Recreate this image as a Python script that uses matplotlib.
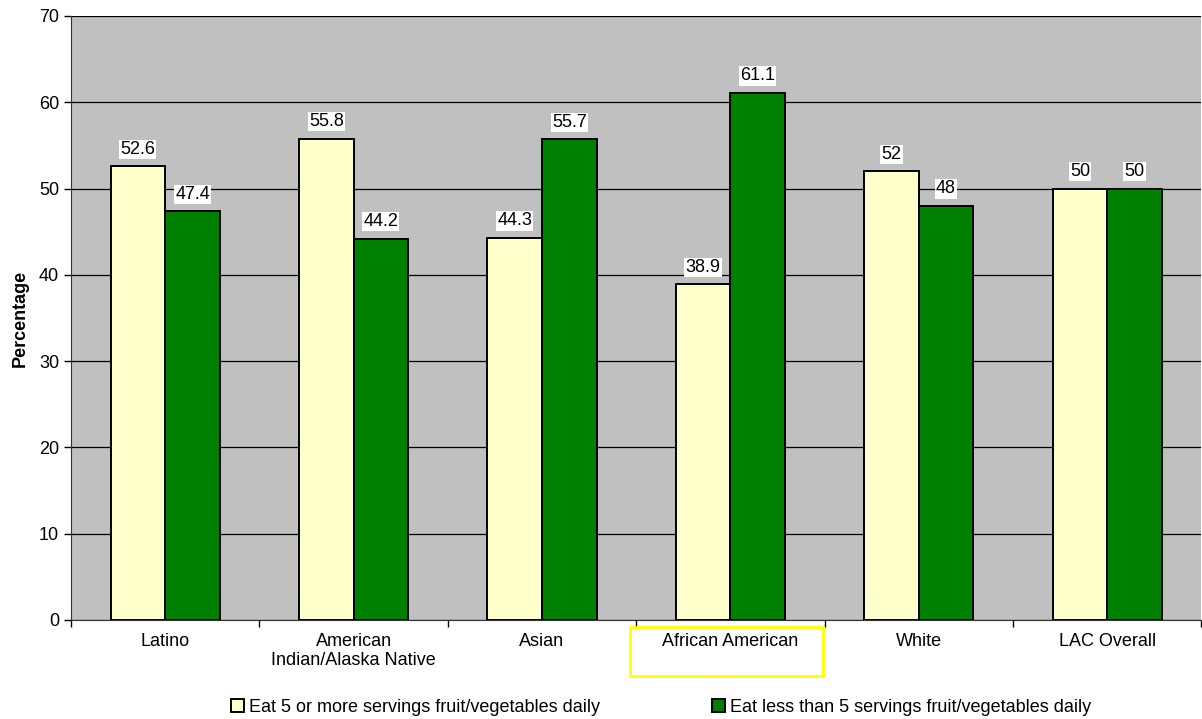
import numpy as np
import matplotlib.pyplot as plt
from matplotlib.patches import Rectangle

plt.rcParams['font.family'] = ['Liberation Sans', 'DejaVu Sans']

categories = ["Latino", "American\nIndian/Alaska Native", "Asian",
              "African American", "White", "LAC Overall"]
five_or_more = [52.6, 55.8, 44.3, 38.9, 52, 50]
less_than_five = [47.4, 44.2, 55.7, 61.1, 48, 50]
value_labels_a = ["52.6", "55.8", "44.3", "38.9", "52", "50"]
value_labels_b = ["47.4", "44.2", "55.7", "61.1", "48", "50"]
series_names = ["Eat 5 or more servings fruit/vegetables daily",
                "Eat less than 5 servings fruit/vegetables daily"]

FS = 13


def main():
    fig = plt.figure(figsize=(12.02, 7.19), dpi=100)
    ax = fig.add_axes([71 / 1202, 1 - 620 / 719, 1 - 71 / 1202 - 0.0005, (620 - 16) / 719])
    ax.set_facecolor('#C0C0C0')

    x = np.arange(len(categories))
    w = 0.29
    b1 = ax.bar(x - w / 2, five_or_more, w, color='#FFFFCC', edgecolor='black', linewidth=1.4,
                label=series_names[0], zorder=3)
    b2 = ax.bar(x + w / 2, less_than_five, w, color='#008000', edgecolor='black', linewidth=1.4,
                label=series_names[1], zorder=3)

    for bars, labels in ((b1, value_labels_a), (b2, value_labels_b)):
        for rect, lab in zip(bars, labels):
            ax.annotate(lab, (rect.get_x() + rect.get_width() / 2, rect.get_height()),
                        xytext=(0, 6), textcoords='offset points', ha='center', va='bottom',
                        fontsize=FS, zorder=5,
                        bbox=dict(boxstyle='square,pad=0.06', fc='white', ec='none'))

    ax.set_xlim(-0.5, len(categories) - 0.5)
    ax.set_ylim(0, 70)
    ax.set_yticks(np.arange(0, 71, 10))
    ax.yaxis.grid(True, color='black', linewidth=0.9, zorder=1)
    ax.set_axisbelow(True)
    ax.tick_params(axis='y', labelsize=FS, length=5, width=1)

    ax.set_xticks(x)
    ax.set_xticklabels(categories, fontsize=FS)
    ax.tick_params(axis='x', which='major', length=0, pad=9)
    ax.set_xticks(np.arange(-0.5, len(categories), 1), minor=True)
    ax.tick_params(axis='x', which='minor', length=5, width=1)

    for s in ['top', 'right']:
        ax.spines[s].set_visible(False)
    ax.spines['left'].set_color('#333333')
    ax.spines['bottom'].set_color('#333333')

    ax.set_ylabel('Percentage', fontsize=FS, fontweight='bold', labelpad=7)

    # yellow highlight box around the African American label
    fig.patches.append(Rectangle((630 / 1202, 1 - 676 / 719), 193 / 1202, 49 / 719,
                                 transform=fig.transFigure, fill=False,
                                 edgecolor='#FFFF00', linewidth=2))

    fig.legend(handles=[b1, b2], labels=series_names, loc='center',
               bbox_to_anchor=(0.55, 1 - 707 / 719), ncol=2, frameon=False,
               fontsize=FS, handlelength=0.7, handleheight=0.7, handletextpad=0.3,
               columnspacing=6.2)

    fig.savefig('out.png', dpi=100)


if __name__ == '__main__':
    main()
